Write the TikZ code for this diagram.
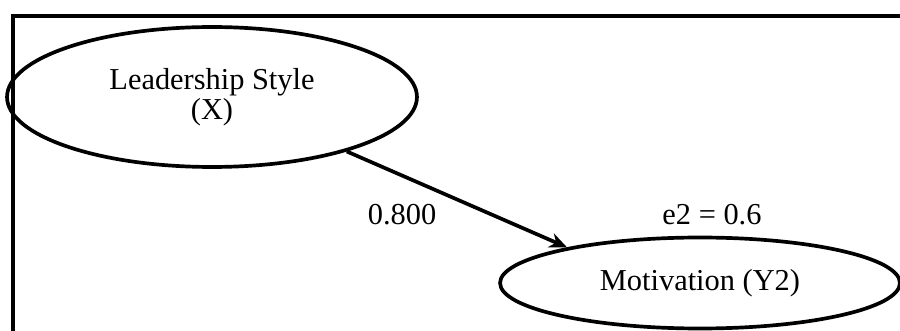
\documentclass[tikz,border=0pt]{standalone}
\usepackage{fontspec}
\setmainfont{Liberation Serif}
\usetikzlibrary{arrows.meta,shapes.geometric,positioning}

\begin{document}
\begin{tikzpicture}[x=0.02cm,y=-0.02cm
  ,>={Stealth[length=10pt,width=8.5pt]}
  ,line width=2.1pt
  ,font=\fontsize{17.3}{17.3}\selectfont]
  \tikzstyle{latent}=[ellipse,draw,inner sep=0pt,align=center]

  \useasboundingbox (0,0) rectangle (900,331);
  % frame
  \draw[line width=2.7pt] (13,331) -- (13,16) -- (900,16);

  \node[latent,minimum width=8.2cm,minimum height=2.8cm] (LS) at (212,97) {Leadership Style\\(X)};
  \node[latent,minimum width=8cm,minimum height=1.82cm] (MOT) at (700,283) {Motivation (Y2)};

  \node (e2) at (712,215) {e2 = 0.6};
  \node (b) at (402,215) {0.800};

  \path[->] (LS.-22) edge (MOT.165);
\end{tikzpicture}
\end{document}
